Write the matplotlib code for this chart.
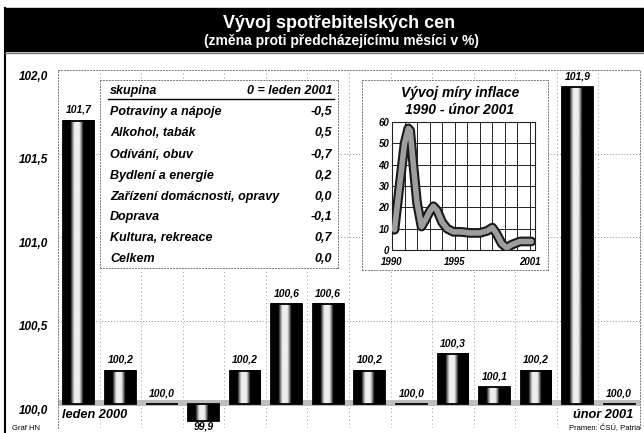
import matplotlib
matplotlib.use("Agg")
import matplotlib.pyplot as plt
import numpy as np
from matplotlib.patches import Rectangle
from matplotlib.lines import Line2D
import matplotlib.patheffects as pe
from matplotlib.ticker import FixedLocator
from matplotlib.transforms import ScaledTranslation
from matplotlib import font_manager as fm

# ---------------- data ----------------
months = ["I/00", "II/00", "III/00", "IV/00", "V/00", "VI/00", "VII/00",
          "VIII/00", "IX/00", "X/00", "XI/00", "XII/00", "I/01", "II/01"]
cpi = [101.7, 100.2, 100.0, 99.9, 100.2, 100.6, 100.6,
       100.2, 100.0, 100.3, 100.1, 100.2, 101.9, 100.0]
y_ticks = [100.0, 100.5, 101.0, 101.5, 102.0]

table_groups = ["Potraviny a nápoje", "Alkohol, tabák", "Odívání, obuv",
                "Bydlení a energie", "Zařízení domácnosti, opravy",
                "Doprava", "Kultura, rekreace", "Celkem"]
table_values = ["-0,5", "0,5", "-0,7", "0,2", "0,0", "-0,1", "0,7", "0,0"]

infl_years = [1990.2, 1990.6, 1991.0, 1991.3, 1991.45, 1991.7, 1992.0, 1992.35,
              1992.65, 1993.0, 1993.3, 1993.6, 1994.0, 1994.4, 1994.9, 1995.5,
              1996.2, 1997.0, 1997.6, 1998.0, 1998.3, 1998.75, 1999.15, 1999.55,
              2000.2, 2000.7, 2001.1]
infl_values = [9.5, 30.0, 50.0, 57.0, 56.0, 40.0, 22.0, 11.0,
               14.0, 18.0, 20.5, 18.5, 13.0, 10.0, 8.5, 8.5,
               8.0, 8.0, 9.0, 10.5, 8.0, 3.0, 1.0, 2.5,
               4.0, 4.0, 4.0]
infl_xticks = [1990, 1995, 2001]

W, H = 644, 433


def _has_bold_italic(name):
    for f in fm.fontManager.ttflist:
        if f.name != name or f.style not in ("italic", "oblique"):
            continue
        w = f.weight
        if isinstance(w, str):
            if w in ("bold", "heavy", "black", "extra bold", "demibold", "semibold"):
                return True
        elif w >= 600:
            return True
    return False


FONT = "DejaVu Sans"
for cand in ["Liberation Sans", "Roboto", "Open Sans", "Lato", "Noto Sans", "DejaVu Sans"]:
    if _has_bold_italic(cand):
        FONT = cand
        break
plt.rcParams["font.family"] = [FONT, "DejaVu Sans"]
BI = dict(fontweight="bold", style="italic")


def fx(x):
    return x / W


def fy(y):
    return 1 - y / H


def fmt(v):
    return f"{v:.1f}".replace(".", ",")


fig = plt.figure(figsize=(W / 100, H / 100), dpi=100)
fig.patch.set_facecolor("white")

# header band
fig.patches.append(Rectangle((fx(5), fy(51)), fx(639), 43 / H,
                             transform=fig.transFigure, color="black", zorder=0))
fig.lines.append(Line2D([fx(5), fx(5)], [fy(8), fy(433)], transform=fig.transFigure,
                        color="black", lw=1.5))
fig.lines.append(Line2D([fx(5), 1], [fy(53), fy(53)], transform=fig.transFigure,
                        color="#777777", lw=1.0))
fig.text(fx(339), fy(23), "Vývoj spotřebitelských cen", color="white",
         fontsize=13, fontweight="bold", ha="center", va="center")
fig.text(fx(342), fy(41), "(změna proti předcházejícímu měsíci v %)", color="white",
         fontsize=10, fontweight="bold", ha="center", va="center")

# ---------------- main axes ----------------
ax = fig.add_axes([fx(58), fy(428), 582 / W, 358 / H])
x = np.arange(len(cpi))
bw = 0.74

# cylinder-like shading gradient
t = np.linspace(0, 1, 60)
shade = np.clip(1.25 - 5.5 * np.abs(t - 0.45) ** 1.4 * 2.0, 0, 0.93)
shade[:2] = 0
shade[-4:] = 0
grad = np.tile(shade, (2, 1))

for xi, v in zip(x, cpi):
    lo, hi = min(v, 100.0), max(v, 100.0)
    if hi - lo < 1e-6:
        ax.plot([xi - bw / 2, xi + bw / 2], [100.0, 100.0], color="black", lw=1.3, zorder=4)
    else:
        ax.imshow(grad, extent=(xi - bw / 2, xi + bw / 2, lo, hi), aspect="auto",
                  cmap="gray", vmin=0, vmax=1, zorder=3, interpolation="bilinear")
        ax.add_patch(Rectangle((xi - bw / 2, lo), bw, hi - lo, fill=False,
                               ec="black", lw=1.3, zorder=4))
    if v >= 100.0:
        ax.text(xi, v + 0.035, fmt(v), ha="center", va="bottom", fontsize=7.5,
                zorder=5, **BI)
    else:
        ax.text(xi, v - 0.005, fmt(v), ha="center", va="top", fontsize=7.5,
                zorder=5, clip_on=False, **BI)

ax.axhspan(99.99, 100.025, color="#bdbdbd", zorder=2, lw=0)

ax.set_xlim(-0.5, len(cpi) - 0.5)
ax.set_ylim(100 - 24 / 167, 102.0 + 0.5 / 167)
ax.set_yticks(y_ticks)
ax.set_yticklabels([fmt(v) for v in y_ticks], fontsize=8.5, **BI)
ax.tick_params(axis="y", length=0, pad=7)
off = ScaledTranslation(0, -0.05, fig.dpi_scale_trans)
for lab in ax.get_yticklabels():
    lab.set_transform(lab.get_transform() + off)
ax.set_xticks([])
for yv in y_ticks[1:-1]:
    ax.axhline(yv, color="#888888", lw=0.7, ls=(0, (1, 2)), zorder=1)
for xv in np.arange(0.5, len(cpi) - 1, 1.0):
    ax.axvline(xv, color="#999999", lw=0.7, ls=(0, (1, 3)), zorder=1)
for s in ["left", "top", "right"]:
    ax.spines[s].set_linestyle((0, (1, 2)))
    ax.spines[s].set_color("#777777")
    ax.spines[s].set_linewidth(0.7)
ax.spines["bottom"].set_visible(False)

fig.text(fx(62), fy(415), "leden 2000", fontsize=9.2, ha="left", va="center", **BI)
fig.text(fx(633), fy(415), "únor 2001", fontsize=9.2, ha="right", va="center", **BI)
fig.text(fx(12), fy(428), "Graf HN", fontsize=5.5, ha="left", va="center")
fig.text(fx(640), fy(428), "Pramen: ČSÚ, Patria", fontsize=5.5, ha="right", va="center")

# ---------------- table inset ----------------
axt = fig.add_axes([fx(100), fy(268), 238 / W, 188 / H])
axt.set_xlim(0, 1)
axt.set_ylim(0, 1)
axt.set_xticks([])
axt.set_yticks([])
for s in axt.spines.values():
    s.set_linestyle((0, (1, 2)))
    s.set_color("#777777")
    s.set_linewidth(0.7)


def ty(y):
    return (268 - y) / 188


axt.text(0.042, ty(91), "skupina", fontsize=9, va="center", ha="left", **BI)
axt.text(0.975, ty(91), "0 = leden 2001", fontsize=9, va="center", ha="right", **BI)
axt.plot([0.035, 0.985], [ty(99), ty(99)], color="black", lw=1.0)
row_y = [112, 133, 155, 176, 197, 217, 238, 259]
for g, v, yy in zip(table_groups, table_values, row_y):
    axt.text(0.042, ty(yy), g, fontsize=9, va="center", ha="left", **BI)
    axt.text(0.975, ty(yy), v, fontsize=9, va="center", ha="right", **BI)

# ---------------- inflation inset ----------------
axb = fig.add_axes([fx(362), fy(270), 186 / W, 190 / H])
axb.set_xticks([])
axb.set_yticks([])
for s in axb.spines.values():
    s.set_linestyle((0, (1, 2)))
    s.set_color("#777777")
    s.set_linewidth(0.7)
axb.text(0.527, (270 - 93) / 190, "Vývoj míry inflace", fontsize=10,
         ha="center", va="center", transform=axb.transAxes, **BI)
axb.text(0.527, (270 - 110) / 190, "1990 - únor 2001", fontsize=10,
         ha="center", va="center", transform=axb.transAxes, **BI)

axi = fig.add_axes([fx(392), fy(250), 143 / W, 128 / H])
axi.set_xlim(1990, 2001.4)
axi.set_ylim(0, 60)
axi.set_yticks(np.arange(0, 61, 10))
axi.set_xticks(infl_xticks)
axi.xaxis.set_minor_locator(FixedLocator(np.arange(1990, 2002, 1)))
axi.grid(True, which="both", color="#222222", lw=0.7)
axi.tick_params(which="both", length=0, labelsize=7, pad=2)
axi.tick_params(axis="x", pad=5)
for lab in axi.get_xticklabels() + axi.get_yticklabels():
    lab.set_fontweight("bold")
    lab.set_fontstyle("italic")
for s in axi.spines.values():
    s.set_color("#222222")
    s.set_linewidth(0.8)
axi.plot(infl_years, infl_values, color="#9d9d9d", lw=4.0, solid_joinstyle="round",
         solid_capstyle="round",
         path_effects=[pe.Stroke(linewidth=7.0, foreground="#1a1a1a"), pe.Normal()],
         zorder=3)

fig.savefig("out.png", dpi=100)
